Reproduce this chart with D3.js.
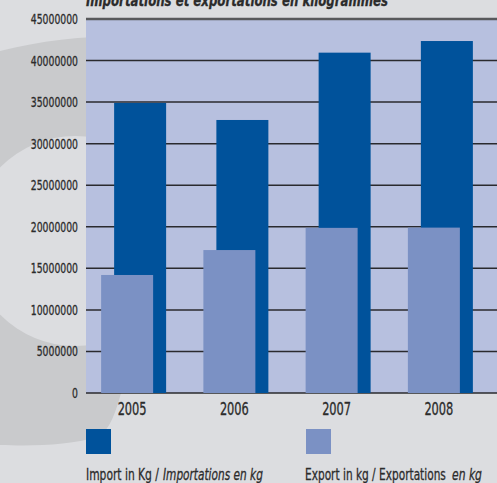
<!DOCTYPE html>
<html>
<head>
<meta charset="utf-8">
<script src="https://cdn.jsdelivr.net/npm/d3@7"></script>
<style>
	body { margin: 0; background: #dcdde0; }
	svg { display: block; }
	.label { font-family: "DejaVu Sans Condensed", "Liberation Sans Narrow", sans-serif; fill: #2b2b2b; stroke: #2b2b2b; stroke-width: 0.3; }
</style>
</head>
<body>
<div id="chart"></div>
<script>
let years = ["2005", "2006", "2007", "2008"];
let imports = [34900000, 32850000, 40950000, 42350000];
let exports = [14200000, 17200000, 19870000, 19900000];
let y_ticks = [0, 5000000, 10000000, 15000000, 20000000, 25000000, 30000000, 35000000, 40000000, 45000000];

let width = 497;
let height = 483;
let plot_left = 86;
let plot_top = 19;
let plot_bottom = 393;
let bar_width = 52;

let svg = d3.select("#chart").append("svg")
	.attr("width", width)
	.attr("height", height);

// Background with the big gray "C" shape on the left
svg.append("rect")
	.attr("width", width)
	.attr("height", height)
	.attr("fill", "#dcdde0");

svg.append("path")
	.attr("fill", "#c9cacc")
	.attr("d", "M0,51 C40,41 80,36 130,36 L130,393 L121,393 C116,412 110,428 100,436 C70,446 30,446 0,445 Z");

svg.append("circle")
	.attr("cx", 75)
	.attr("cy", 241)
	.attr("r", 105)
	.attr("fill", "#dcdde0");

// Scales
let x = d3.scaleBand()
	.domain(years)
	.range([81, 490]);

let y = d3.scaleLinear()
	.domain([0, 45000000])
	.range([plot_bottom, plot_top]);

// Plot background
svg.append("rect")
	.attr("x", plot_left)
	.attr("y", plot_top)
	.attr("width", width - plot_left)
	.attr("height", plot_bottom - plot_top)
	.attr("fill", "#b7c0df");

// Gridlines
svg.selectAll(".grid")
	.data(y_ticks)
	.enter().append("line")
	.attr("class", "grid")
	.attr("x1", plot_left)
	.attr("x2", width)
	.attr("y1", function(d) { return y(d); })
	.attr("y2", function(d) { return y(d); })
	.attr("stroke", function(d) { return d == 45000000 ? "#58595c" : "#2a2a2e"; })
	.attr("stroke-width", function(d) { return d == 45000000 ? 2.5 : 1.5; });

// Import bars (behind)
svg.selectAll(".imp")
	.data(imports)
	.enter().append("rect")
	.attr("class", "imp")
	.attr("x", function(d, i) { return x(years[i]) + x.bandwidth() / 2 - 18; })
	.attr("y", function(d) { return y(d); })
	.attr("width", bar_width)
	.attr("height", function(d) { return y(0) - y(d); })
	.attr("fill", "#00529b");

// Export bars (front)
svg.selectAll(".exp")
	.data(exports)
	.enter().append("rect")
	.attr("class", "exp")
	.attr("x", function(d, i) { return x(years[i]) + x.bandwidth() / 2 - 31; })
	.attr("y", function(d) { return y(d); })
	.attr("width", bar_width)
	.attr("height", function(d) { return y(0) - y(d); })
	.attr("fill", "#7b91c4");

// Y axis labels, squeezed to the narrow look of the original
svg.selectAll(".ylab")
	.data(y_ticks)
	.enter().append("text")
	.attr("class", "label")
	.attr("x", 78)
	.attr("y", function(d) { return y(d) + 5; })
	.attr("text-anchor", "end")
	.attr("font-size", 14)
	.attr("textLength", function(d) { return String(d).length * 5.9; })
	.attr("lengthAdjust", "spacingAndGlyphs")
	.text(function(d) { return d; });

// X axis labels
svg.selectAll(".xlab")
	.data(years)
	.enter().append("text")
	.attr("class", "label")
	.attr("x", function(d) { return x(d) + x.bandwidth() / 2; })
	.attr("y", 415)
	.attr("text-anchor", "middle")
	.attr("font-size", 17)
	.attr("textLength", 29)
	.attr("lengthAdjust", "spacingAndGlyphs")
	.text(function(d) { return d; });

// Title (cut off at the top)
svg.append("text")
	.attr("class", "label")
	.attr("x", 86)
	.attr("y", 6)
	.attr("font-size", 16)
	.attr("font-weight", "bold")
	.attr("font-style", "italic")
	.attr("textLength", 302)
	.attr("lengthAdjust", "spacingAndGlyphs")
	.text("Importations et exportations en kilogrammes");

// Legend: swatches, then each text piece as its own text
let legend_colors = ["#00529b", "#7b91c4"];
let legend_x = [86, 306];
let legend_parts = [
	{ text: "Import in Kg /", x: 86, len: 73, italic: false },
	{ text: "Importations en kg", x: 163, len: 100, italic: true },
	{ text: "Export in kg / Exportations", x: 305, len: 141, italic: false },
	{ text: "en kg", x: 452, len: 30, italic: true }
];

svg.selectAll(".swatch")
	.data(legend_colors)
	.enter().append("rect")
	.attr("class", "swatch")
	.attr("x", function(d, i) { return legend_x[i]; })
	.attr("y", 429)
	.attr("width", 25)
	.attr("height", 25)
	.attr("fill", function(d) { return d; });

// squeeze each piece horizontally so it fits the width it has in the original
svg.selectAll(".legtext")
	.data(legend_parts)
	.enter().append("text")
	.attr("class", "label")
	.attr("x", 0)
	.attr("y", 0)
	.attr("font-size", 16.5)
	.attr("font-style", function(d) { return d.italic ? "italic" : "normal"; })
	.text(function(d) { return d.text; })
	.attr("transform", function(d) {
		let natural = this.getComputedTextLength();
		return "translate(" + d.x + ",480) scale(" + (d.len / natural) + ",1)";
	});
</script>
</body>
</html>
